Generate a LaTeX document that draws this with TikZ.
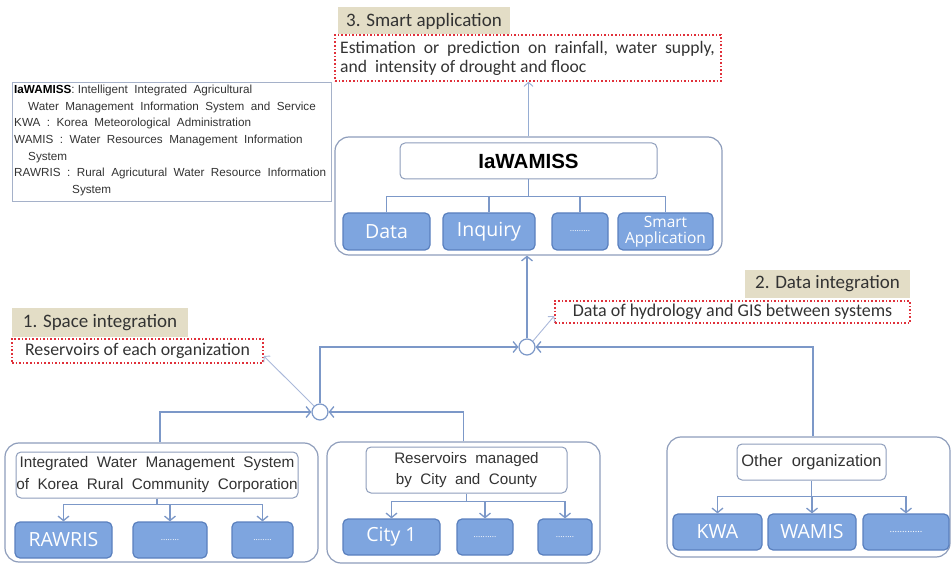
\documentclass[tikz,border=0pt]{standalone}
\usepackage{fontspec}
\setmainfont{Liberation Sans}
\newfontfamily\calfont{Carlito}
\newfontfamily\malfont{Open Sans}
\usetikzlibrary{arrows.meta}
\definecolor{bluef}{HTML}{7EA5DF}
\definecolor{blued}{HTML}{5A80BE}
\definecolor{outerc}{HTML}{8E9DBB}
\definecolor{linec}{HTML}{7C98C8}
\definecolor{thinc}{HTML}{AAB8DA}
\definecolor{tanc}{HTML}{E3DDC6}
\definecolor{redc}{HTML}{E0303A}
\definecolor{txtc}{HTML}{333333}
\tikzset{
  outerbox/.style={draw=outerc,line width=1.2pt,rounded corners=14pt,inner sep=0pt},
  innerbox/.style={draw=outerc,fill=white,line width=1pt,rounded corners=5pt,inner sep=0pt,align=center,text=txtc},
  bluebox/.style={draw=blued,fill=bluef,line width=1.2pt,rounded corners=5pt,inner sep=0pt,text=white,align=center},
  bigtext/.style={font=\malfont\fontsize{19.5}{22}\selectfont},
  dottext/.style={font=\malfont\fontsize{8.5}{10}\selectfont},
  tanbox/.style={fill=tanc,inner sep=0pt,text=txtc,font=\calfont\fontsize{19}{22}\selectfont},
  redbox/.style={draw=redc,dotted,line width=1.6pt,inner sep=0pt,text=txtc},
  conn/.style={draw=linec,line width=1.3pt},
  thinarr/.style={draw=thinc,line width=0.9pt,-{Straight Barb[length=4pt,width=9pt]}},
  tip/.style={-{Straight Barb[length=4.5pt,width=11pt]}},
  junction/.style={circle,draw=linec,line width=1.2pt,fill=white,minimum size=16pt,inner sep=0pt},
}
\begin{document}
\begin{tikzpicture}[x=1pt,y=-1pt]
\useasboundingbox (0,0) rectangle (951,564);
% legend
\node[draw=outerc!80,line width=0.8pt,minimum width=319pt,minimum height=119pt,anchor=north west,inner sep=0pt] (legend) at (12,82) {};
\node[anchor=north west,align=left,inner sep=0pt,text=txtc,font=\fontsize{11.7}{16.6}\selectfont] (legtext) at (14,85)
{\textbf{\color{black}IaWAMISS}: Intelligent\ \ Integrated\ \ Agricultural\\
\hspace*{14pt}Water\ \ Management\ \ Information\ \ System\ \ and\ \ Service\\
KWA\ \ :\ \ Korea\ \ Meteorological\ \ Administration\\
WAMIS\ \ :\ \ Water\ \ Resources\ \ Management\ \ Information\\
\hspace*{14pt}System\\
RAWRIS\ \ :\ \ Rural\ \ Agricutural\ \ Water\ \ Resource\ \ Information\\
\hspace*{58pt}System};
% smart application
\node[tanbox,minimum width=172pt,minimum height=27pt] (t3) at (424,21) {3. Smart application};
\node[redbox,minimum width=386pt,minimum height=46pt] (r3) at (528,58) {};
\node[anchor=west,align=left,inner sep=0pt,text=txtc,font=\calfont\fontsize{17.6}{19}\selectfont] (r3t) at (340,58)
{Estimation\ \ or\ \ prediction\ \ on\ \ rainfall,\ \ water\ \ supply,\\ and\ \ intensity of drought and flooc};
% IaWAMISS
\node[outerbox,minimum width=387pt,minimum height=118pt] (oI) at (528.5,196) {};
\node[innerbox,minimum width=257pt,minimum height=36pt,font=\bfseries\fontsize{20.5}{22}\selectfont,text=black] (iI) at (528.5,161) {IaWAMISS};
\node[bluebox,bigtext,minimum width=87pt,minimum height=37pt] (b1) at (386.5,231.5) {Data};
\node[bluebox,bigtext,minimum width=92pt,minimum height=37pt] (b2) at (489,231.5) {Inquiry};
\node[bluebox,dottext,minimum width=56pt,minimum height=37pt] (b3) at (580,231.5) {.........};
\node[bluebox,minimum width=95pt,minimum height=37pt,font=\malfont\fontsize{15.5}{16}\selectfont] (b4) at (665.5,231.5) {Smart\\Application};
% data integration
\node[tanbox,minimum width=165pt,minimum height=28pt] (t2) at (827.5,284) {2. Data integration};
\node[redbox,minimum width=355pt,minimum height=22pt,font=\calfont\fontsize{18}{20}\selectfont] (r2) at (732.5,312) {Data of hydrology and GIS between systems};
% space integration
\node[tanbox,minimum width=176pt,minimum height=29pt] (t1) at (100,322.5) {1. Space integration};
\node[redbox,minimum width=251pt,minimum height=24pt,font=\calfont\fontsize{17.8}{20}\selectfont] (r1) at (137.5,351) {Reservoirs of each organization};
% junctions
\node[junction] (c1) at (527,347) {};
\node[junction] (c2) at (320,412) {};
% left group
\node[outerbox,minimum width=313pt,minimum height=119pt] (oL) at (161.5,502.5) {};
\node[innerbox,minimum width=282pt,minimum height=46pt,font=\fontsize{15.3}{22}\selectfont] (iL) at (157,475) {Integrated\ \ Water\ \ Management\ \ System\\of\ \ Korea\ \ Rural\ \ Community\ \ Corporation};
\node[bluebox,bigtext,minimum width=97pt,minimum height=36pt] (l1) at (63.5,540) {RAWRIS};
\node[bluebox,dottext,minimum width=74pt,minimum height=36pt] (l2) at (170,540) {........};
\node[bluebox,dottext,minimum width=61pt,minimum height=36pt] (l3) at (262.5,540) {........};
% middle group
\node[outerbox,minimum width=273pt,minimum height=121pt] (oM) at (463.5,502.5) {};
\node[innerbox,minimum width=201pt,minimum height=46pt,font=\fontsize{15.2}{21}\selectfont] (iM) at (466.5,470) {Reservoirs\ \ managed\\by\ \ City\ \ and\ \ County};
\node[bluebox,bigtext,minimum width=97pt,minimum height=36pt] (m1) at (391.5,537) {City 1};
\node[bluebox,dottext,minimum width=56pt,minimum height=36pt] (m2) at (485,537) {..........};
\node[bluebox,dottext,minimum width=54pt,minimum height=36pt] (m3) at (565,537) {........};
% right group
\node[outerbox,minimum width=283pt,minimum height=120pt] (oR) at (808.5,497) {};
\node[innerbox,minimum width=149pt,minimum height=36pt,font=\fontsize{16.5}{18}\selectfont] (iR) at (811.5,462) {Other\ \ organization};
\node[bluebox,bigtext,minimum width=89pt,minimum height=36pt] (k1) at (717.5,532) {KWA};
\node[bluebox,bigtext,minimum width=88pt,minimum height=36pt] (k2) at (812,532) {WAMIS};
\node[bluebox,minimum width=86pt,minimum height=36pt,font=\malfont\fontsize{9.5}{10}\selectfont] (k3) at (906,532) {.............};
% IaWAMISS tree
\coordinate (ib) at ([yshift=16pt]b1.north);
\draw[conn] (iI.south) -- (iI.south |- ib);
\draw[conn] (b1.north) -- (ib) -| (b4.north);
\draw[conn] (b2.north) -- (b2.north |- ib);
\draw[conn] (b3.north) -- (b3.north |- ib);
% up arrow to estimation
\draw[thinarr,draw=linec!80] (oI.north) -- (oI.north |- r3.south);
% junction connections
\draw[conn,tip] (c1.north) -- (c1.north |- oI.south);
\draw[conn,tip] (c2.north) |- (c1.west);
\draw[conn,tip] ([xshift=4.5pt]oR.north) |- (c1.east);
\draw[conn,tip] ([xshift=-1.5pt]oL.north) |- (c2.west);
\draw[conn,tip] (oM.north) |- (c2.east);
\draw[thinarr] (c2.north west) -- ([yshift=-5pt]r1.east);
\draw[thinarr] (c1.north east) -- ([yshift=-4pt]r2.west);
% left tree
\coordinate (lb) at ([yshift=17pt]l1.north);
\draw[conn] (iL.south) -- (iL.south |- lb);
\draw[conn] (lb) -- (lb -| l3.north);
\draw[conn,tip] (lb) -- (l1.north);
\draw[conn,tip] (lb -| l2.north) -- (l2.north);
\draw[conn,tip] (lb -| l3.north) -- (l3.north);
% middle tree
\coordinate (mb) at ([yshift=17pt]m1.north);
\draw[conn] (iM.south) -- (iM.south |- mb);
\draw[conn] (mb) -- (mb -| m3.north);
\draw[conn,tip] (mb) -- (m1.north);
\draw[conn,tip] (mb -| m2.north) -- (m2.north);
\draw[conn,tip] (mb -| m3.north) -- (m3.north);
% right tree
\coordinate (kb) at ([yshift=17pt]k1.north);
\draw[conn] (iR.south) -- (iR.south |- kb);
\draw[conn] (kb) -- (kb -| k3.north);
\draw[conn,tip] (kb) -- (k1.north);
\draw[conn,tip] (kb -| k2.north) -- (k2.north);
\draw[conn,tip] (kb -| k3.north) -- (k3.north);
\end{tikzpicture}
\end{document}
